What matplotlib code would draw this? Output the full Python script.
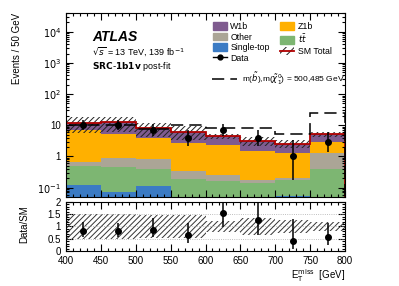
import numpy as np
import matplotlib
matplotlib.use("Agg")
import matplotlib.pyplot as plt
from matplotlib.patches import Patch
from matplotlib.lines import Line2D
from matplotlib.ticker import FixedLocator, MultipleLocator, LogLocator, FuncFormatter, NullFormatter

plt.rcParams['font.family'] = ['Liberation Sans', 'DejaVu Sans']
plt.rcParams['hatch.linewidth'] = 0.7

# ---- data ----
edges = [400, 450, 500, 550, 600, 650, 700, 750, 800]
single_top = [0.125, 0.07, 0.115, 0.01, 0.01, 0.01, 0.055, 0.01]
ttbar      = [0.385, 0.39, 0.285, 0.18, 0.15, 0.13, 0.125, 0.39]
other      = [0.17, 0.40, 0.45, 0.15, 0.10, 0.03, 0.03, 0.85]
z1b        = [6.12, 4.24, 3.15, 2.46, 2.04, 1.31, 1.04, 1.65]
w1b        = [5.2, 7.4, 4.0, 3.5, 2.2, 1.72, 1.3, 2.3]
rel_unc    = [0.52, 0.52, 0.46, 0.46, 0.21, 0.34, 0.28, 0.2]
signal     = [10, 10, 7.4, 10, 8, 8, 5.1, 24]
data       = [10, 10, 7, 4, 7, 4, 1, 3]
data_err_lo = [3.109, 3.109, 2.581, 1.914, 2.581, 1.914, 0.827, 1.633]
data_err_hi = [4.27, 4.27, 3.77, 3.163, 3.77, 3.163, 2.3, 2.918]

names  = ['Single-top', r'$t\bar{t}$', 'Other', 'Z1b', 'W1b']
colors = ['#3b7bc4', '#7db672', '#aba596', '#ffb000', '#7f5b8f']
comps  = [single_top, ttbar, other, z1b, w1b]

edges = np.array(edges, float)
centers = 0.5 * (edges[:-1] + edges[1:])
HATCH = '//////'

fig = plt.figure(figsize=(3.99, 2.86), dpi=100)
ax = fig.add_axes([0.1654, 0.3112, 0.6993, 0.6433])
rx = fig.add_axes([0.1654, 0.1224, 0.6993, 0.1713])

base = np.zeros(len(centers))
for vals, c in zip(comps, colors):
    top = base + np.array(vals)
    ax.stairs(top, edges, baseline=base.copy(), fill=True, color=c, lw=0)
    base = top
sm = base
unc = np.array(rel_unc)
ax.stairs(sm * (1 + unc), edges, baseline=sm * (1 - unc), fill=True,
          facecolor='none', edgecolor='#222222', hatch=HATCH, lw=0)
ax.stairs(sm, edges, color='#b00000', lw=1.3)
ax.stairs(signal, edges, color='black', lw=1.1, linestyle=(0, (8, 4)))
d = np.array(data, float)
ax.errorbar(centers, d, yerr=[data_err_lo, data_err_hi], fmt='o', color='black',
            ms=4, elinewidth=1.1, capsize=0)

ax.set_yscale('log')
ax.set_xlim(400, 800)
ax.set_ylim(0.05, 4e4)

def logfmt(v, pos):
    e = int(round(np.log10(v)))
    if e == 0:
        return '1'
    if e == 1:
        return '10'
    return r'$10^{%d}$' % e
ax.yaxis.set_major_locator(LogLocator(base=10, numticks=12))
ax.yaxis.set_major_formatter(FuncFormatter(logfmt))
ax.yaxis.set_minor_locator(LogLocator(base=10, subs=np.arange(2, 10), numticks=12))
ax.yaxis.set_minor_formatter(NullFormatter())
ax.xaxis.set_major_locator(MultipleLocator(50))
ax.xaxis.set_minor_locator(MultipleLocator(10))
ax.tick_params(labelbottom=False)

for a in (ax, rx):
    a.tick_params(which='both', direction='in', top=True, right=True, labelsize=7, width=0.8)
    a.tick_params(which='major', length=5)
    a.tick_params(which='minor', length=2.5)
    for s in a.spines.values():
        s.set_linewidth(0.8)

ax.set_ylabel('Events / 50 GeV', fontsize=7, loc='top')
ax.yaxis.set_label_coords(-0.158, 1.0)

ax.text(0.093, 0.87, 'ATLAS', transform=ax.transAxes, fontsize=10,
        fontweight='bold', fontstyle='italic', va='center')
ax.text(0.093, 0.788, r'$\sqrt{s}$ = 13 TeV, 139 fb$^{-1}$', transform=ax.transAxes,
        fontsize=6.5, va='center')
ax.text(0.093, 0.712, r'$\bf{SRC\text{-}1b1v}$ post-fit', transform=ax.transAxes,
        fontsize=6.5, va='center')

h = [Patch(color=colors[4]), Patch(color=colors[2]), Patch(color=colors[0]),
     Line2D([], [], marker='o', color='black', ms=3.5, lw=1.0),
     Patch(color=colors[3]), Patch(color=colors[1]),
     (Patch(facecolor='none', edgecolor='#222222', hatch='////', lw=0),
      Line2D([], [], color='#b00000', lw=1.3))]
lab = ['W1b', 'Other', 'Single-top', 'Data', 'Z1b', r'$t\bar{t}$', 'SM Total']
leg1 = ax.legend(h, lab, ncol=2, loc='upper left', bbox_to_anchor=(0.51, 0.975),
                 frameon=False, fontsize=6.3, borderpad=0, handlelength=1.6,
                 handleheight=1.0, handletextpad=0.4, labelspacing=0.18, columnspacing=1.2)
ax.add_artist(leg1)
ax.legend([Line2D([], [], color='black', lw=1.1, linestyle=(0, (8, 4)))],
          [r'm($\tilde{b}$),m($\tilde{\chi}^{0}_{1}$) = 500,485 GeV'],
          loc='upper left', bbox_to_anchor=(0.51, 0.71), frameon=False, fontsize=6,
          borderpad=0, handlelength=3.0, handletextpad=0.6)

# ratio
rx.stairs(1 + unc, edges, baseline=1 - unc, fill=True, facecolor='none',
          edgecolor='#333333', hatch=HATCH, lw=0)
for yv in (0.5, 1.0, 1.5):
    rx.axhline(yv, color='#aaaaaa', lw=0.6, ls=':')
ratio = d / sm
rx.errorbar(centers, ratio, yerr=[np.array(data_err_lo) / sm, np.array(data_err_hi) / sm],
            fmt='o', color='black', ms=4, elinewidth=1.1, capsize=0)
rx.set_xlim(400, 800)
rx.set_ylim(0, 2)
rx.yaxis.set_major_locator(FixedLocator([0, 0.5, 1, 1.5, 2]))
rx.yaxis.set_major_formatter(FuncFormatter(lambda v, p: ('%g' % v)))
rx.yaxis.set_minor_locator(MultipleLocator(0.1))
rx.xaxis.set_major_locator(MultipleLocator(50))
rx.xaxis.set_minor_locator(MultipleLocator(10))
rx.set_ylabel('Data/SM', fontsize=7)
rx.yaxis.set_label_coords(-0.13, 0.55)
rx.set_xlabel(r'E$_{\mathrm{T}}^{\mathrm{miss}}$  [GeV]', fontsize=7, loc='right', labelpad=1)

fig.savefig('out.png', dpi=100)
